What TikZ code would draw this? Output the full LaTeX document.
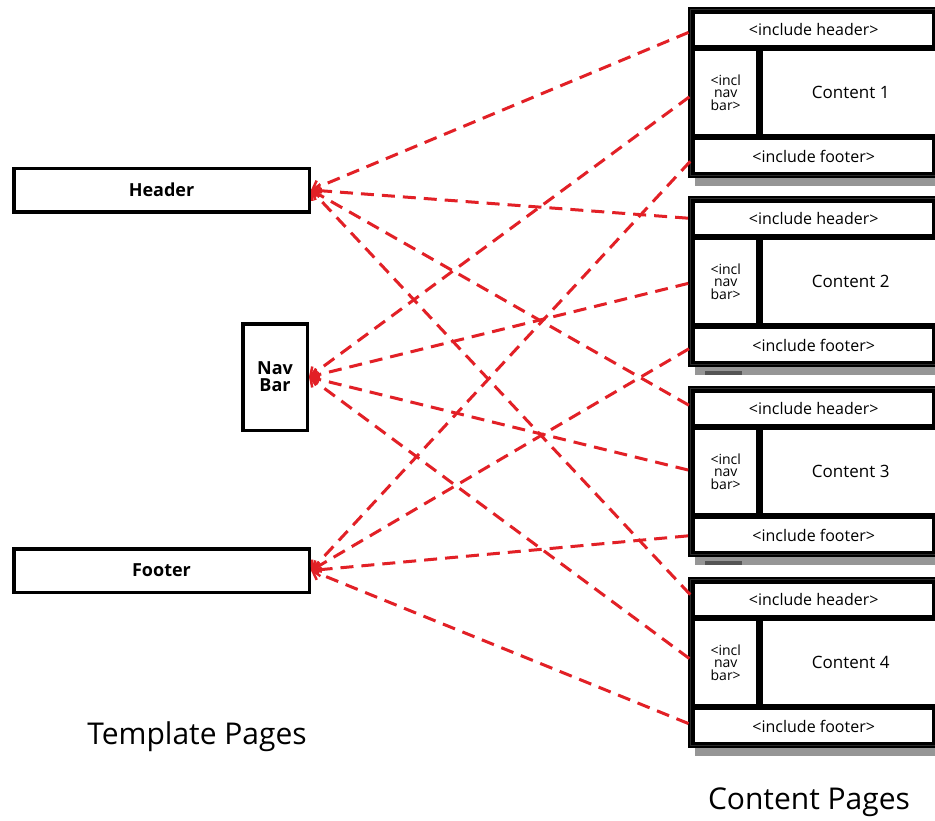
\documentclass[tikz,border=0pt]{standalone}
\usepackage{fontspec}
\setmainfont{Open Sans}
\usetikzlibrary{arrows.meta}
\definecolor{linkred}{RGB}{226,32,38}
\definecolor{shadowgray}{RGB}{150,150,150}
\definecolor{darkshadow}{RGB}{85,85,85}
\begin{document}
\begin{tikzpicture}[x=1pt,y=-1pt,
  tmpl/.style={draw=black, line width=3.5pt, fill=white, inner sep=0pt,
    align=center, font=\bfseries\fontsize{18}{17}\selectfont},
  pageframe/.style={fill=black, inner sep=0pt, anchor=north west,
    minimum width=250pt, minimum height=171pt},
  cell/.style={fill=white, inner sep=0pt, anchor=north west, align=center,
    font=\fontsize{16}{16}\selectfont},
  navcell/.style={cell, font=\fontsize{14}{12.5}\selectfont},
  caption/.style={font=\fontsize{30}{32}\selectfont},
  link/.style={draw=linkred, line width=3pt, dash pattern=on 13pt off 8pt,
    shorten <=7pt,
    -{Straight Barb[length=7pt,width=13pt,line width=2.5pt]}}
]
\useasboundingbox (0,0) rectangle (935,820);
\fill[white] (0,0) rectangle (935,820);

% template pages
\node[tmpl, minimum width=295.5pt, minimum height=43.5pt] (hdr) at (161.5,190) {Header};
\node[tmpl, minimum width=64.5pt, minimum height=106.5pt] (nav) at (275,377) {Nav\\Bar};
\node[tmpl, minimum width=295.5pt, minimum height=43.5pt] (ftr) at (161.5,570.5) {Footer};
\node[caption] (tlabel) at (197,737) {Template Pages};

% content pages
\foreach \i/\t in {1/7,2/196,3/386,4/577}{
  \fill[shadowgray] (695,\t+171) rectangle (940,\t+179);
  \node[pageframe] (p\i) at (688,\t) {};
  \draw[gray!35!black, line width=0.5pt] (690.5,\t+2.5) rectangle (940,\t+168.5);
  \node[cell, minimum width=237pt, minimum height=31pt] (h\i) at (695,\t+7) {<include header>};
  \node[navcell, minimum width=61pt, minimum height=83pt] (n\i) at (695,\t+44) {<incl\\nav\\bar>};
  \node[cell, minimum width=175pt, minimum height=83pt, font=\fontsize{17}{17}\selectfont] (c\i) at (763,\t+44) {Content \i};
  \node[cell, minimum width=237pt, minimum height=32pt] (f\i) at (695,\t+133) {<include footer>};
}
\fill[darkshadow] (705,371) rectangle (742,375);
\fill[darkshadow] (705,561) rectangle (742,565);
\node[caption] (clabel) at (809,802) {Content Pages};

% include links
\foreach \i in {1,2,3,4}{
  \draw[link] (h\i.west) -- (hdr.east);
  \draw[link] (n\i.west) -- (nav.east);
  \draw[link] (f\i.west) -- (ftr.east);
}
\end{tikzpicture}
\end{document}
